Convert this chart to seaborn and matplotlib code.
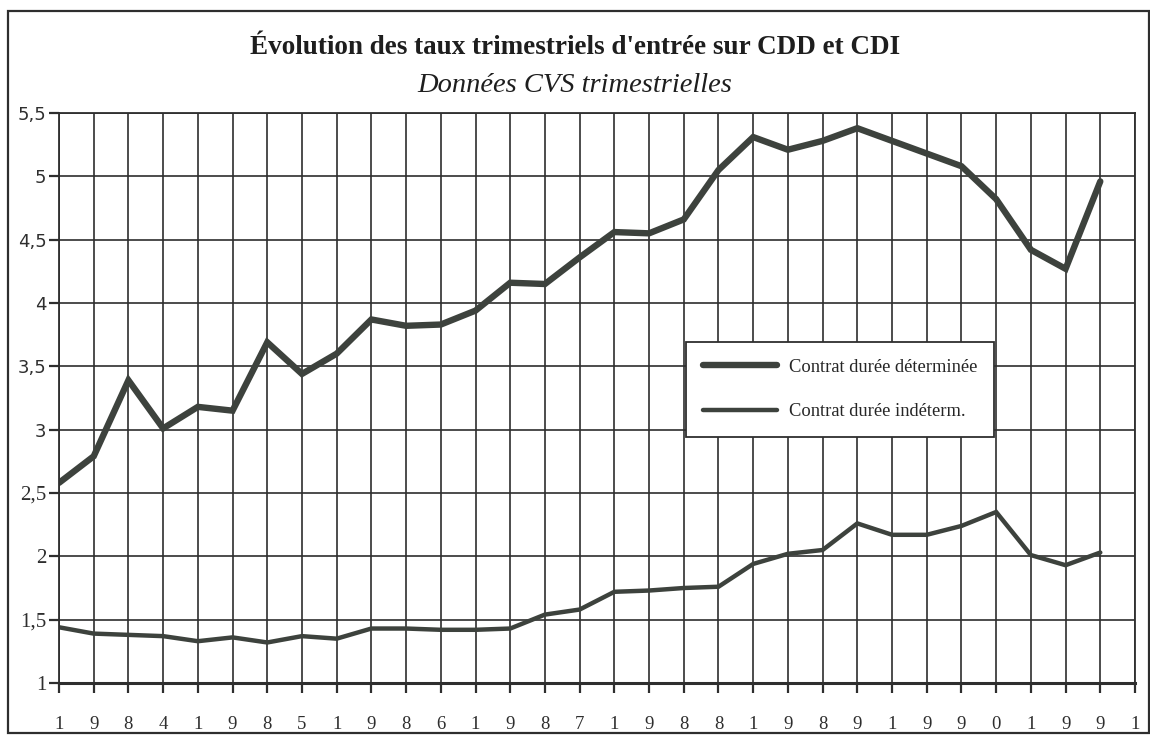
import matplotlib
matplotlib.use("Agg")
import matplotlib.pyplot as plt
import seaborn as sns
import pandas as pd
import numpy as np

# ── DATA (quarterly, 1984 Q1 -> 1991 Q3) ─────────────────
years = [1984, 1985, 1986, 1987, 1988, 1989, 1990, 1991]

cdd = [2.58, 2.79, 3.39, 3.01, 3.18, 3.15, 3.69, 3.44, 3.60, 3.87,
       3.82, 3.83, 3.94, 4.16, 4.15, 4.36, 4.56, 4.55, 4.66, 5.05,
       5.31, 5.21, 5.28, 5.38, 5.28, 5.18, 5.08, 4.82, 4.42, 4.27,
       4.96]

cdi = [1.44, 1.39, 1.38, 1.37, 1.33, 1.36, 1.32, 1.37, 1.35, 1.43,
       1.43, 1.42, 1.42, 1.43, 1.54, 1.58, 1.72, 1.73, 1.75, 1.76,
       1.94, 2.02, 2.05, 2.26, 2.17, 2.17, 2.24, 2.35, 2.01, 1.93,
       2.03]

series_names = ["Contrat durée déterminée", "Contrat durée indéterm."]
y_ticks = [1, 1.5, 2, 2.5, 3, 3.5, 4, 4.5, 5, 5.5]

# one digit of the year under each quarter tick
x_labels = [d for y in years for d in str(y)]

df = pd.DataFrame({
    "q": list(range(len(cdd))) * 2,
    "taux": cdd + cdi,
    "serie": [series_names[0]] * len(cdd) + [series_names[1]] * len(cdi),
})

# ── STYLE ─────────────────────────────────────────────────
sns.set_theme(style="white")
plt.rcParams["font.family"] = ["Liberation Serif", "DejaVu Serif"]

INK = "#2e2e2e"
LINE = "#3d423d"

fig = plt.figure(figsize=(11.5, 7.37), dpi=100)
fig.patch.set_facecolor("white")
ax = fig.add_axes([59 / 1150, 1 - 683 / 737, (1135 - 59) / 1150, (683 - 113) / 737])

sns.lineplot(data=df[df["serie"] == series_names[0]], x="q", y="taux",
             ax=ax, color=LINE, linewidth=4.6, label=series_names[0],
             solid_joinstyle="miter")
sns.lineplot(data=df[df["serie"] == series_names[1]], x="q", y="taux",
             ax=ax, color=LINE, linewidth=3.2, label=series_names[1],
             solid_joinstyle="miter")

ax.set_xlim(0, len(x_labels) - 1)
ax.set_ylim(1, 5.5)
ax.set_xticks(range(len(x_labels)))
ax.set_xticklabels(x_labels, fontsize=13.5)
ax.set_yticks(y_ticks)
ax.set_yticklabels([f"{v:g}".replace(".", ",") for v in y_ticks])
ax.set_xlabel("")
ax.set_ylabel("")

# upper y labels look like a sans face in the scan, lower ones serif
for lab, v in zip(ax.get_yticklabels(), y_ticks):
    if v >= 3:
        lab.set_fontfamily("DejaVu Sans")
        lab.set_fontsize(13)
    else:
        lab.set_fontfamily("Liberation Serif")
        lab.set_fontsize(15)
    lab.set_color(INK)

ax.grid(True, color=INK, linewidth=1.2)
ax.set_axisbelow(True)
for side in ["left", "bottom", "top", "right"]:
    ax.spines[side].set_color(INK)
    ax.spines[side].set_linewidth(1.3)
ax.spines["bottom"].set_linewidth(2.2)
ax.tick_params(axis="both", direction="out", length=7, width=1.6,
               colors=INK, bottom=True, left=True)
ax.tick_params(axis="x", pad=17)
ax.tick_params(axis="y", pad=2)

leg = ax.legend(loc="upper left", bbox_to_anchor=(686 / 1150, 1 - 342 / 737),
                bbox_transform=fig.transFigure, borderaxespad=0,
                fontsize=13.3, handlelength=4.05, handletextpad=0.65,
                labelspacing=1.5, borderpad=0.9, frameon=True, fancybox=False,
                framealpha=1)
leg.get_frame().set_edgecolor(INK)
leg.get_frame().set_linewidth(1.3)

fig.text(0.5, 1 - 48 / 737, "Évolution des taux trimestriels d'entrée sur CDD et CDI",
         ha="center", va="center", fontsize=19.5, fontweight="bold", color="#1e1e1e")
fig.text(0.5, 1 - 86 / 737, "Données CVS trimestrielles",
         ha="center", va="center", fontsize=20.5, fontstyle="italic", color="#1e1e1e")

# outer frame of the scanned figure
fig.add_artist(plt.Rectangle((8 / 1150, 4 / 737), (1149 - 8) / 1150, (726 - 4) / 737,
                             transform=fig.transFigure, fill=False,
                             edgecolor=INK, linewidth=1.6))

fig.savefig("out.png", dpi=100, facecolor="white")
